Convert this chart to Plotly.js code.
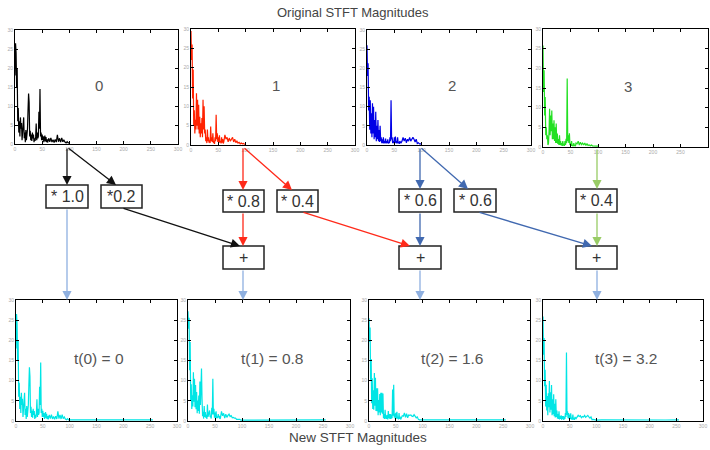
<!DOCTYPE html>
<html><head><meta charset="utf-8">
<script src="https://cdn.plot.ly/plotly-3.0.1.min.js"></script>
<style>html,body{margin:0;padding:0;background:#fff}#chart{width:710px;height:450px}</style>
</head><body><div id="chart"></div>
<script>
// ---------- data ----------
const freqTop = [0,1,2,3,4,5,6,7,8,9,10,11,12,13,14,15,16,17,18,19,20,21,22,23,24,25,26,27,28,29,30,31,32,33,34,35,36,37,38,39,40,41,42,43,44,45,46,47,48,49,50,51,52,53,54,55,56,57,58,59,
  60,62,64,66,68,70,72,74,76,78,80,82,84,86,88,90,92,94,96,98,100];
const freqBottom = [0,1,2,3,4,5,6,7,8,9,10,11,12,13,14,15,16,17,18,19,20,21,22,23,24,25,26,27,28,29,30,31,32,33,34,35,36,37,38,39,40,41,42,43,44,45,46,47,48,49,50,51,52,53,54,55,56,57,58,59,
  60,62,64,66,68,70,72,74,76,78,80,82,84,86,88,90,92,94,96,98,100,110,140,170,200,230,255];

const orig0 = [18,26.5,24,15,20,6,9.5,3,6,2,7,4,5.5,1,3,2.5,7,1.5,3,0.5,3.7,1,2,4,9,13.3,11,2,3.5,1,2.5,0.8,3,1.5,2.5,0.5,1.5,0.8,2,5.4,1,3,1.5,2,8.5,4,14.5,2,3,1,2.5,1,2,0.5,1.5,2.2,0.7,1.8,0.5,1.2,
  0.4,1.5,0.6,1.6,0.5,1.1,0.4,1.2,0.5,2.4,0.6,1.5,0.5,1.6,0.6,1,0.5,0.3,0.6,0.3,0.3];
const orig1 = [29.5,22,26,12,19.5,5,9,3,6.5,4,13.4,5,11.7,4,10.4,3,7.3,2,5.6,3,7,2,11.7,4,10,3,4,1,2,0.5,4,1,2,0.6,1.2,0.5,4.8,1,2,0.8,3,0.5,1,0.3,2,1,7.8,1.5,3,0.8,2,0.5,2.5,0.7,1,0.4,2,0.6,1.5,0.4,
  0.8,2.6,1.5,2,0.8,1.8,1,1.5,2,0.8,1.5,0.6,1,0.5,0.7,0.3,0.5,0.3,0.4,0.2,0.2];
const orig2 = [26,18,21.3,9,12.6,4,11.7,3,8.3,2,10.9,3,10,1.5,6.5,2,8.7,1,5,1.5,6.5,1,3.9,0.8,5,1,2,0.5,1.5,0.5,2,0.4,1,0.5,1.7,0.4,1,0.5,1.5,0.4,0.8,0.5,2,1,11.7,1.5,2,0.5,1,0.5,2,0.6,2.2,0.5,1,0.4,2,0.5,0.8,0.3,
  1,0.5,1,2,1,1.8,0.6,1.5,1,2,1,1.5,2,1.5,0.8,1.5,0.4,0.6,0.3,0.3,0.2];
const orig3 = [25.8,14,19.5,8,12.7,3,5,2,3,0.5,1,4,9.7,3,8,4,9.3,2,6,2,6.8,1.5,5,1,6,1,3.4,0.8,2,0.5,3,0.5,1.5,0.4,1,0.3,1.5,0.4,0.8,0.3,1.5,0.5,2.1,1,17.4,1.5,3,1,3.5,0.5,1,0.3,1.5,0.3,0.5,0.2,1,0.3,0.5,0.2,
  1,0.8,1.5,0.5,1.2,0.6,1,0.5,1,0.4,0.8,0.4,0.5,0.3,0.5,0.3,0.3,0.2,0.3,0.2,0.2];

const new0 = [18,26.5,24,15,20,6,9.5,3,6,2,7,4,5.5,1,3,2.5,7,1.5,3,0.5,3.7,1,2,4,9,13.3,11,2,3.5,1,2.5,0.8,3,1.5,2.5,0.5,1.5,0.8,2,5.4,1,3,1.5,2,8.5,4,14.5,2,3,1,2.5,1,2,0.5,1.5,2.2,0.7,1.8,0.5,1.2,
  0.4,1.5,0.6,1.6,0.5,1.1,0.4,1.2,0.5,2.4,0.6,1.5,0.5,1.6,0.6,1,0.5,0.3,0.6,0.3,0.3,0.3,0.25,0.3,0.3,0.25,0.3];
const new1 = [27.2,22.9,25.6,12.6,19.6,5.2,9.1,3,6.4,3.6,12.1,4.8,10.5,3.4,8.9,2.9,7.2,1.9,5.1,2.5,6.3,1.8,9.8,4,9.8,13,5.4,1.2,2.3,0.6,3.7,1,2.2,0.8,1.5,0.5,4.1,1,2,1.7,2.6,1,1.1,0.6,3.3,1.6,10.5,1.6,3,0.8,2.1,0.6,2.4,0.7,1.1,0.7,1.7,0.9,1.3,0.5,
  0.7,2.4,1.3,1.9,0.7,1.7,0.9,1.4,1.7,1.1,1.3,0.8,0.9,0.7,0.7,0.4,0.4,0.3,0.4,0.2,0.2,0.3,0.25,0.3,0.3,0.25,0.3];
const new2 = [25.5,19.6,23.2,10.2,15.4,4.4,10.6,3,7.6,2.8,11.9,3.8,10.7,2.5,8.1,2.4,8.1,1.4,5.2,2.1,6.7,1.4,7,2.1,7,1.8,6.8,0.7,1.7,0.5,2.8,0.6,1.4,0.5,1.5,0.4,2.5,0.7,1.7,0.5,1.7,0.5,1.6,0.7,7.8,1.3,9,0.9,1.8,0.6,2,0.6,2.3,0.6,1,0.4,2,0.5,1.1,0.4,
  0.9,1.3,1.2,2,0.9,1.8,0.8,1.5,1.4,1.5,1.2,1.1,1.6,1.1,0.8,1,0.4,0.3,0.3,0.2,0.2,0.3,0.25,0.3,0.3,0.25,0.3];
const new3 = [25.9,16.4,20.6,8.6,12.7,3.6,9,2.6,6.2,1.4,6.9,3.4,9.9,2.1,7.1,2.8,8.9,1.4,5.4,1.7,6.6,1.2,4.3,0.9,5.4,1,2.6,0.6,1.7,0.5,2.4,0.4,1.2,0.5,1.4,0.3,1.2,0.5,1.2,0.3,1.1,0.5,2,1,17,1.5,2.4,0.7,2,0.5,1.6,0.5,1.9,0.4,0.8,0.3,1.6,0.4,0.7,0.3,
  1,0.6,1.2,1.4,1.1,1.3,0.8,1.1,1,1.4,0.9,1.1,1.4,1,0.7,1,0.3,0.4,0.3,0.2,0.2,0.3,0.25,0.3,0.3,0.25,0.3];

const origLabels = ['0','1','2','3'];
const newLabels = ['t(0) = 0','t(1) = 0.8','t(2) = 1.6','t(3) = 3.2'];
const weightLabels = ['* 1.0','*0.2','* 0.8','* 0.4','* 0.6','* 0.6','* 0.4'];
const sumLabel = '+';
const topTitle = 'Original STFT Magnitudes';
const bottomTitle = 'New STFT Magnitudes';

// ---------- layout geometry (pixels) ----------
const W = 710, H = 450;
const FONT = 'Liberation Sans, Arial, sans-serif';
const topBoxes = [[15,178,30,144],[191,355,29,145],[367,531,30,145],[543,708,29,147]];
const botBoxes = [[16,177,300,421],[188,350,300,421],[369,530,300,421],[543,703,300,421]];
const origColors = ['#000000','#ff2200','#0000e6','#22e022'];
const newColor = '#00e5e5';

const origSeries = [orig0, orig1, orig2, orig3];
const newSeries = [new0, new1, new2, new3];

const px = x => x / W;
const py = y => 1 - y / H;

const data = [];
const layout = {
  width: W, height: H,
  margin: {l:0, r:0, t:0, b:0},
  paper_bgcolor: '#fff', plot_bgcolor: '#fff',
  showlegend: false,
  font: {family: FONT},
  annotations: [], shapes: []
};

function axisPair(i, box, isTop, label) {
  const xn = i === 1 ? 'xaxis' : 'xaxis' + i;
  const yn = i === 1 ? 'yaxis' : 'yaxis' + i;
  const common = {
    showline: true, mirror: 'allticks', linecolor: '#000', linewidth: 1,
    ticks: 'inside', ticklen: 3, tickcolor: '#000', tickwidth: 1,
    showgrid: false, zeroline: false,
    tickfont: {size: 5, color: '#aaa', family: FONT}, fixedrange: true
  };
  layout[xn] = Object.assign({}, common, {
    domain: [px(box[0]), px(box[1])], range: [0, 300], dtick: 50, tick0: 0,
    anchor: i === 1 ? 'y' : 'y' + i
  });
  layout[yn] = Object.assign({}, common, {
    domain: [py(box[3]), py(box[2])], range: [0, 30], dtick: 5, tick0: 0,
    anchor: i === 1 ? 'x' : 'x' + i
  });
  layout.annotations.push({
    xref: i === 1 ? 'x' : 'x' + i, yref: i === 1 ? 'y' : 'y' + i,
    x: 155, y: 15.5, text: label, showarrow: false, xanchor: 'center', yanchor: 'middle',
    font: {size: isTop ? 15 : 15.5, color: '#555', family: FONT}
  });
}

for (let k = 0; k < 4; k++) {
  const i = k + 1;
  axisPair(i, topBoxes[k], true, origLabels[k]);
  data.push({x: freqTop, y: origSeries[k], type: 'scatter', mode: 'lines',
    line: {color: origColors[k], width: 1.2}, xaxis: i === 1 ? 'x' : 'x' + i, yaxis: i === 1 ? 'y' : 'y' + i,
    hoverinfo: 'skip'});
}
for (let k = 0; k < 4; k++) {
  const i = k + 5;
  axisPair(i, botBoxes[k], false, newLabels[k]);
  data.push({x: freqBottom, y: newSeries[k], type: 'scatter', mode: 'lines',
    line: {color: newColor, width: 1.2}, xaxis: 'x' + i, yaxis: 'y' + i, hoverinfo: 'skip'});
}

// titles
layout.annotations.push({xref:'paper', yref:'paper', x: px(353), y: py(13), text: topTitle,
  showarrow:false, xanchor:'center', yanchor:'middle', font:{size:13, color:'#444', family: FONT}});
layout.annotations.push({xref:'paper', yref:'paper', x: px(358), y: py(437), text: bottomTitle,
  showarrow:false, xanchor:'center', yanchor:'middle', font:{size:13.5, color:'#444', family: FONT}});

// boxes
const weightBoxes = [[46,88,185,208],[101,142,185,208],[223,264,190,212],[277,318,190,212],[399,441,189,212],[454,496,189,212],[576,617,189,212]];
const sumBoxes = [[223,264,246,269],[399,441,246,269],[576,617,246,269]];
function addBox(b, label) {
  layout.shapes.push({type:'rect', xref:'paper', yref:'paper', x0: px(b[0]), x1: px(b[1]),
    y0: py(b[3]), y1: py(b[2]), line:{color:'#222', width:1.5}, fillcolor:'#fff', layer:'above'});
  layout.annotations.push({xref:'paper', yref:'paper', x: px((b[0]+b[1])/2), y: py((b[2]+b[3])/2),
    xanchor:'center', yanchor:'middle',
    text: label, showarrow:false, font:{size:16, color:'#333', family: FONT}});
}
weightBoxes.forEach((b, j) => addBox(b, weightLabels[j]));
sumBoxes.forEach(b => addBox(b, sumLabel));

// arrows [x0,y0,x1,y1,color]
const BLACK = '#111', RED = '#ff2a1a', BLUE = '#4169b0', GREEN = '#99cc66', LBLUE = '#8fb0e0';
const arrows = [
  [67,147,67,185,BLACK],[67,147,116,185,BLACK],[122,208,240,246,BLACK],
  [243,147,243,190,RED],[243,147,292,190,RED],[243,212,243,246,RED],[302,212,410,246,RED],
  [420,147,420,189,BLUE],[420,147,468,189,BLUE],[420,212,420,246,BLUE],[478,212,592,246,BLUE],
  [597,148,597,189,GREEN],[597,212,597,246,GREEN],
  [67,208,67,300,LBLUE],[243,269,243,300,LBLUE],[420,269,420,300,LBLUE],[597,269,597,300,LBLUE]
];
arrows.forEach(a => {
  layout.annotations.push({xref:'paper', yref:'paper', x: px(a[2]), y: py(a[3]),
    ax: a[0]-a[2], ay: a[1]-a[3], axref:'pixel', ayref:'pixel',
    text:'', showarrow:true, arrowhead:2, arrowsize:1.4, arrowwidth:1.3, arrowcolor:a[4], standoff:0});
});

Plotly.newPlot('chart', data, layout, {displayModeBar:false, staticPlot:true});
</script></body></html>
